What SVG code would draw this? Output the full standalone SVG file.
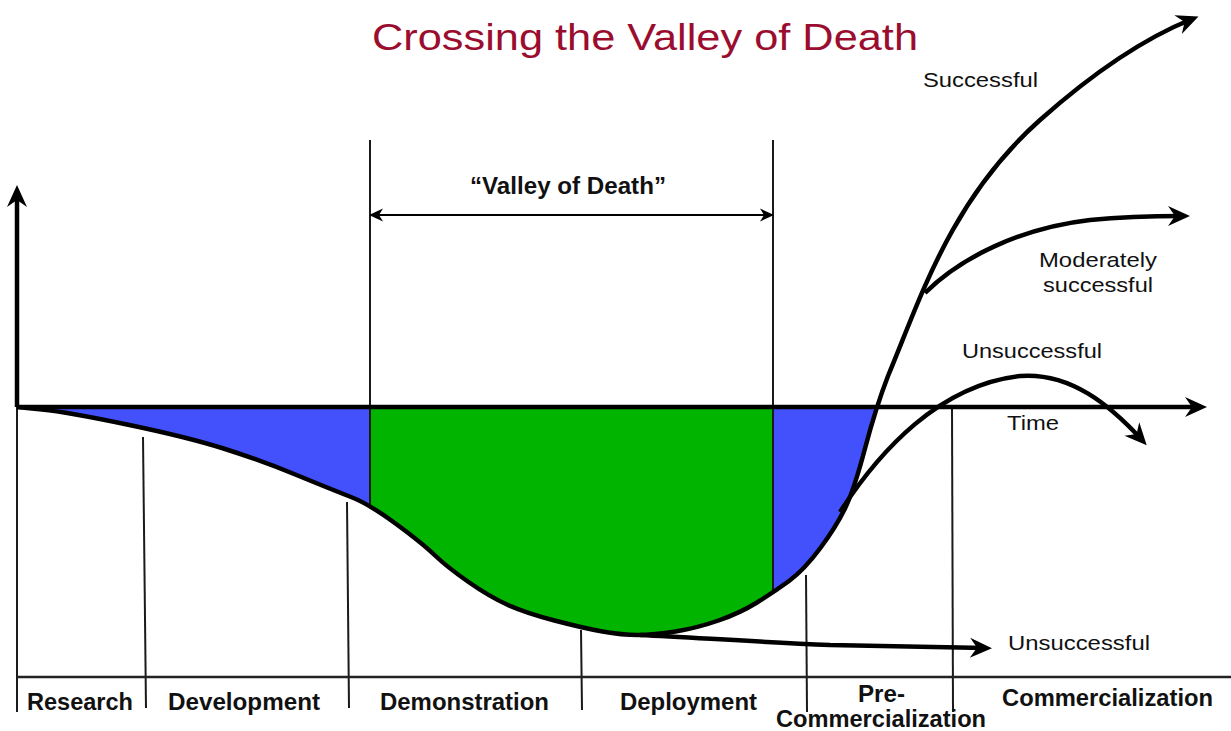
<svg xmlns="http://www.w3.org/2000/svg" width="1231" height="731" viewBox="0 0 1231 731">
<style>
.thick{fill:none;stroke:#000;stroke-width:4.5;stroke-linejoin:round}
.thin{fill:none;stroke:#1a1a1a;stroke-width:2}
.lbl{font-family:"Liberation Sans",Arial,sans-serif;font-size:21px;fill:#111}
.bl{font-family:"Liberation Sans",Arial,sans-serif;font-size:23px;font-weight:bold;fill:#111}
</style>
<defs>
<marker id="ah" markerUnits="userSpaceOnUse" viewBox="-26 -12 28 24" markerWidth="28" markerHeight="24" refX="-7" refY="0" orient="auto">
<path d="M0,0 L-22,-10 L-15,0 L-22,10 Z" fill="#000"/>
</marker>
<marker id="as" markerUnits="userSpaceOnUse" viewBox="-16 -8 18 16" markerWidth="18" markerHeight="16" refX="-3" refY="0" orient="auto-start-reverse">
<path d="M0,0 L-14,-6.5 L-10,0 L-14,6.5 Z" fill="#000"/>
</marker>
<clipPath id="below"><rect x="0" y="407" width="1231" height="324"/></clipPath>
<clipPath id="mid"><rect x="370" y="407" width="403" height="324"/></clipPath>
<path id="area" d="M17,407 L42,409.5 Q67,412 127,424.5 Q187,437 223.5,448.5 Q260,460 296.5,475 Q333,490 351,497 Q369,504 395.5,523.5 Q422,543 434.5,555 Q447,567 468.5,582 Q490,597 508,605 Q526,613 554.5,620.5 Q583,628 602.5,631.5 Q622,635 638,635 Q654,635 675.5,631.5 Q697,628 718.5,620.5 Q740,613 757,602.5 Q774,592 789,581 Q804,570 820,548.5 Q836,527 845,508.5 Q854,490 865,448.5 Q876,407 888,376 L888,407 Z"/>
</defs>

<g id="title">
<text x="372" y="50" font-family="'Liberation Sans',Arial,sans-serif" font-size="37" fill="#9b0d2e" textLength="546" lengthAdjust="spacingAndGlyphs">Crossing the Valley of Death</text>
</g>

<g id="regions">
<use href="#area" fill="#4251fb" clip-path="url(#below)"/>
<use href="#area" fill="#00b400" clip-path="url(#mid)"/>
</g>

<g id="phase-lines">
<line class="thin" x1="370" y1="140" x2="370" y2="505"/>
<line class="thin" x1="773" y1="140" x2="773" y2="593"/>
<line class="thin" x1="17" y1="407" x2="17" y2="712"/>
<line class="thin" x1="143" y1="437" x2="146" y2="708"/>
<line class="thin" x1="347" y1="502" x2="349" y2="708"/>
<line class="thin" x1="581" y1="630" x2="582" y2="710"/>
<line class="thin" x1="806" y1="575" x2="807" y2="712"/>
<line class="thin" x1="952" y1="408" x2="953" y2="712"/>
<line x1="17" y1="677" x2="1231" y2="677" stroke="#222" stroke-width="2.5"/>
</g>

<g id="axes">
<path class="thick" d="M17,407 L17,192" marker-end="url(#ah)"/>
<path class="thick" d="M17,407 L1200,407" marker-end="url(#ah)"/>
</g>

<g id="connectors">
<path class="thick" d="M17,407 L42,409.5 Q67,412 127,424.5 Q187,437 223.5,448.5 Q260,460 296.5,475 Q333,490 351,497 Q369,504 395.5,523.5 Q422,543 434.5,555 Q447,567 468.5,582 Q490,597 508,605 Q526,613 554.5,620.5 Q583,628 602.5,631.5 Q622,635 638,635 Q654,635 675.5,631.5 Q697,628 718.5,620.5 Q740,613 757,602.5 Q774,592 789,581 Q804,570 820,548.5 Q836,527 845,508.5 Q854,490 865,448.5 Q876,407 888,376 C920,300 950,200 1040,120 C1085,80 1140,40 1192,19" marker-end="url(#ah)"/>
<path class="thick" d="M925,293 C960,258 1020,228 1090,220 C1120,217 1150,216 1183,216" marker-end="url(#ah)"/>
<path class="thick" d="M840,512 C880,450 940,385 1020,376 C1070,372 1110,405 1142,440" marker-end="url(#ah)"/>
<path class="thick" d="M640,635 C700,638 760,642 830,645 L985,648" marker-end="url(#ah)"/>
<path d="M372,215 L771,215" fill="none" stroke="#000" stroke-width="2" marker-start="url(#as)" marker-end="url(#as)"/>
</g>

<g id="labels">
<text class="lbl" x="923" y="87" textLength="115" lengthAdjust="spacingAndGlyphs">Successful</text>
<text class="lbl" x="1039" y="267" textLength="118" lengthAdjust="spacingAndGlyphs">Moderately</text>
<text class="lbl" x="1043" y="292" textLength="110" lengthAdjust="spacingAndGlyphs">successful</text>
<text class="lbl" x="962" y="358" textLength="140" lengthAdjust="spacingAndGlyphs">Unsuccessful</text>
<text class="lbl" x="1007" y="430" textLength="52" lengthAdjust="spacingAndGlyphs">Time</text>
<text class="lbl" x="1008" y="650" textLength="142" lengthAdjust="spacingAndGlyphs">Unsuccessful</text>
<text class="bl" x="470" y="194" font-size="21" textLength="196" lengthAdjust="spacingAndGlyphs">“Valley of Death”</text>
</g>

<g id="phases">
<text class="bl" x="27" y="710" textLength="106" lengthAdjust="spacingAndGlyphs">Research</text>
<text class="bl" x="168" y="710" textLength="152" lengthAdjust="spacingAndGlyphs">Development</text>
<text class="bl" x="380" y="710" textLength="169" lengthAdjust="spacingAndGlyphs">Demonstration</text>
<text class="bl" x="620" y="710" textLength="137" lengthAdjust="spacingAndGlyphs">Deployment</text>
<text class="bl" x="858" y="702" textLength="47" lengthAdjust="spacingAndGlyphs">Pre-</text>
<text class="bl" x="776" y="727" textLength="210" lengthAdjust="spacingAndGlyphs">Commercialization</text>
<text class="bl" x="1002" y="706" textLength="211" lengthAdjust="spacingAndGlyphs">Commercialization</text>
</g>
</svg>
